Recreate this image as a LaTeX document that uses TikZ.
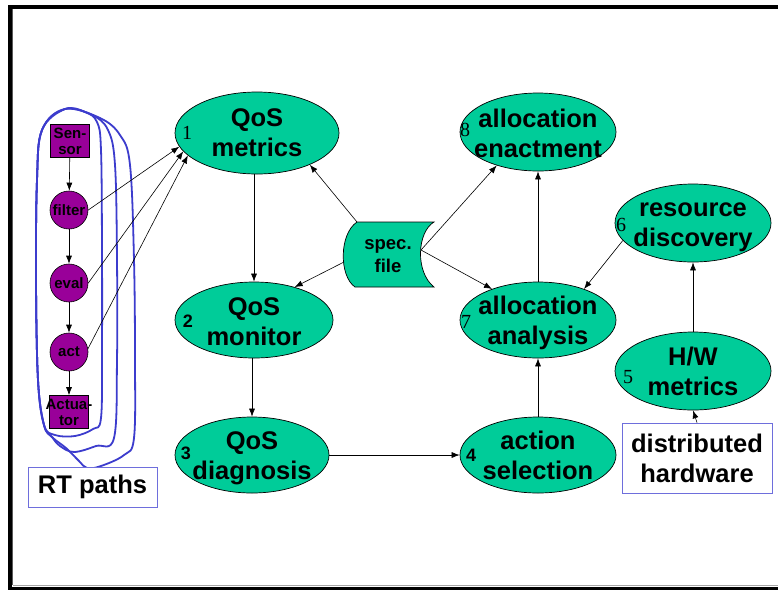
\documentclass[tikz,border=0pt]{standalone}
\usepackage{fontspec}
\setmainfont{Liberation Sans}
\newfontfamily\numserif{Liberation Serif}
\usetikzlibrary{shapes.geometric,arrows.meta,calc}
\definecolor{mint}{RGB}{0,204,153}
\definecolor{plum}{RGB}{153,0,153}
\definecolor{loopblue}{RGB}{60,60,205}
\definecolor{boxblue}{RGB}{110,110,220}
\definecolor{edgegray}{RGB}{90,90,90}

\begin{document}
\begin{tikzpicture}[x=1pt,y=-1pt,
  big/.style={font=\fontsize{25.5}{30}\selectfont\bfseries},
  task/.style={ellipse, draw=black, line width=0.7pt, fill=mint, inner sep=0pt},
  tasktext/.style={big, align=center, inner sep=0pt},
  small/.style={font=\fontsize{15}{16}\selectfont\bfseries, align=center, inner sep=0pt},
  stage/.style={circle, draw=black, line width=0.6pt, fill=plum, minimum size=38pt, inner sep=0pt},
  device/.style={rectangle, draw=black, line width=0.6pt, fill=plum, minimum width=39pt, minimum height=33pt, inner sep=0pt},
  tagbox/.style={rectangle, draw=boxblue, line width=0.8pt, fill=white, inner sep=0pt, big, align=center},
  numsans/.style={font=\fontsize{18}{18}\selectfont\bfseries, inner sep=0pt},
  numrm/.style={font=\fontsize{20}{20}\selectfont\numserif, inner sep=0pt},
  arr/.style={-{Latex[length=8pt,width=6pt]}, line width=0.6pt},
  loop/.style={draw=loopblue, line width=1.8pt, smooth cycle, tension=0.6}
]
\useasboundingbox (0,0) rectangle (778,590);
\fill[white] (0,0) rectangle (778,590);

% slide frame
\fill[black] (8,5) rectangle (778,9);
\fill[black] (8,5) rectangle (11.5,590);
\fill[edgegray] (11.5,9) rectangle (13,585);
\fill[black] (8,587) rectangle (778,590);
\draw[gray!70, line width=1pt] (13,585.5) -- (778,585.5);

% real-time path loops
\draw[loop] plot coordinates {(65,109) (85,112) (97,122) (101,150) (102,250) (102,350)
  (101,418) (93,429) (75,436) (55,435) (44,425) (38,380) (36,280) (37,180) (42,130)};
\draw[loop] plot coordinates {(65,109) (92,115) (108,130) (115,165) (117,260) (117,360)
  (114,438) (96,446) (74,452) (60,446) (52,437) (44,425) (38,380) (36,280) (37,180) (42,130)};
\draw[loop] plot coordinates {(65,109) (100,118) (120,135) (130,165) (134,260) (135,360)
  (134,438) (124,455) (101,466) (87,468) (79,461) (66,448) (52,437) (44,425) (38,380)
  (36,280) (37,180) (42,130)};

% real-time path stages
\node[device, label={[small]center:Sen-\\sor}] (sensor) at (70,141) {};
\node[stage, label={[small]center:filter}] (filter) at (69,210) {};
\node[stage, label={[small]center:eval}] (eval) at (69,283) {};
\node[stage, label={[small]center:act}] (act) at (69,352) {};
\node[device, label={[small]center:Actua-\\tor}] (actuator) at (69,412) {};

% QoS loop
\node[task, minimum width=164pt, minimum height=82pt,
  label={[tasktext]center:QoS\\metrics}] (metrics) at (257,133) {};
\node[task, minimum width=158pt, minimum height=76pt,
  label={[tasktext, yshift=-2pt]center:QoS\\monitor}] (monitor) at (254,320) {};
\node[task, minimum width=154pt, minimum height=76pt,
  label={[tasktext, yshift=-3pt]center:QoS\\diagnosis}] (diag) at (252,455) {};
\node[task, minimum width=156pt, minimum height=78pt,
  label={[tasktext, yshift=-1pt]center:allocation\\enactment}] (enact) at (538,132) {};
\node[task, minimum width=156pt, minimum height=76pt,
  label={[tasktext, yshift=-3pt]center:allocation\\analysis}] (analysis) at (538,320) {};
\node[task, minimum width=156pt, minimum height=76pt,
  label={[tasktext]center:action\\selection}] (select) at (538,455) {};
\node[task, minimum width=156pt, minimum height=78pt,
  label={[tasktext, yshift=-4pt]center:resource\\discovery}] (discovery) at (693,223) {};
\node[task, minimum width=156pt, minimum height=78pt,
  label={[tasktext]center:H/W\\metrics}] (hw) at (693,371) {};

% step numbers
\node[numrm] (n1) at (187,133) {1};
\node[numsans] (n2) at (188,321) {2};
\node[numsans] (n3) at (186,453) {3};
\node[numsans] (n4) at (471,455) {4};
\node[numrm] (n5) at (628,377) {5};
\node[numrm] (n6) at (621,225) {6};
\node[numrm] (n7) at (466,322) {7};
\node[numrm] (n8) at (465,130) {8};

% specification file: scroll outline, then its label
\coordinate (specTL) at (357,222);
\coordinate (specTR) at (434,222);
\coordinate (specBR) at (434,287);
\coordinate (specBL) at (355,287);
\coordinate (specL) at (344,262);
\coordinate (specR) at (421,250);
\filldraw[fill=mint, draw=black, line width=0.7pt]
  (specTL) -- (specTR) .. controls (417,232) and (415,272) .. (specBR)
  -- (specBL) .. controls (339,276) and (339,234) .. (specTL) -- cycle;
\node[font=\fontsize{18.5}{23}\selectfont\bfseries, align=center, inner sep=0pt] (spec) at (388,256) {spec.\\file};

% labelled boxes
\node[tagbox, minimum width=129pt, minimum height=40pt] (rt) at (92.5,487) {RT paths};
\node[tagbox, minimum width=150pt, minimum height=70pt] (dhw) at (697,458) {distributed\\hardware};

% connectors along the real-time path
\draw[arr] (sensor) -- (filter);
\draw[arr] (filter) -- (eval);
\draw[arr] (eval) -- (act);
\draw[arr] (act) -- (actuator);
\draw[arr] (filter.east) -- (metrics.190);
\draw[arr] (eval.east) -- (metrics.194);
\draw[arr] (act.10) -- (metrics.198);

% QoS chain
\draw[arr] (metrics.south -| monitor.north) -- (monitor.north);
\draw[arr] (monitor.south -| diag.north) -- (diag.north);
\draw[arr] (diag.east) -- (diag.east -| select.west);
\draw[arr] (select.north) -- (analysis.south);
\draw[arr] (analysis.north) -- (enact.south);
\draw[arr] (discovery.194) -- (analysis.34);
\draw[arr] (hw.north) -- (discovery.south);
\draw[arr] (dhw.north) -- (hw.south);

% specification file feeds
\draw[arr] (specTL) -- (metrics.-31);
\draw[arr] (specL) -- (monitor.39);
\draw[arr] (specR) -- (enact.219);
\draw[arr] (specR) -- (analysis.146);
\end{tikzpicture}
\end{document}
